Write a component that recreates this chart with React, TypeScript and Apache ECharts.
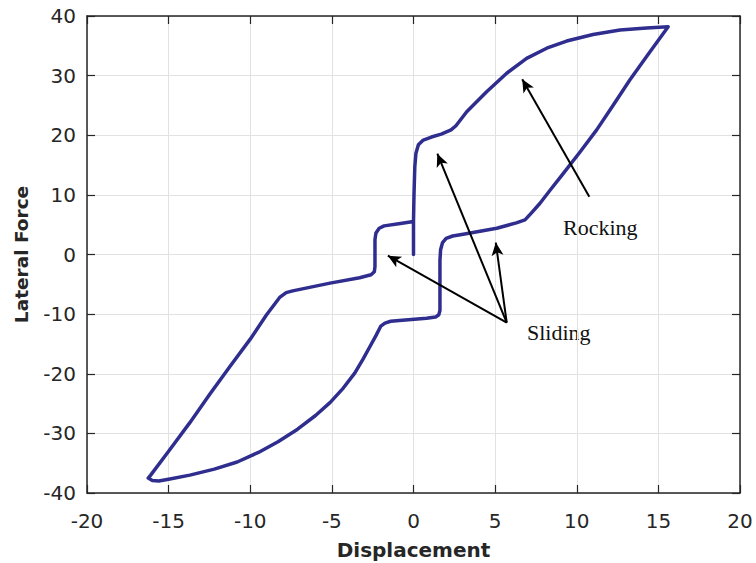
import React, { useEffect, useRef } from "react";
import * as echarts from "echarts";

// Hysteresis loop (Displacement, Lateral Force)
const dispX: number[] = [
  // initial vertical rise and rocking branch
  0, 0, 0.03, 0.08, 0.15, 0.3, 0.6, 1.1, 1.7, 2.3, 2.6, 3.26, 4.48, 5.71, 6.93, 8.16, 9.38, 11.0, 12.65, 14.28, 15.6,
  // unloading
  14.3, 13.26, 12.2, 11.22, 10.2, 9.18, 8.4, 7.75, 7.2, 6.83, 6.3, 5.1, 3.05, 2.4, 2.0, 1.78, 1.66, 1.62, 1.62, 1.55, 1.35, 0.8, -0.5, -1.4, -1.75,
  // negative loading branch
  -2.0, -2.3, -2.7, -3.1, -3.6, -4.3, -5.1, -6.0, -7.1, -8.3, -9.5, -10.8, -12.2, -13.7, -15.0, -15.6, -16.0, -16.25, -16.1,
  // reloading
  -15.0, -13.7, -12.47, -11.2, -10.0, -9.0, -8.2, -7.8, -7.4, -5.11, -3.3, -2.6, -2.4, -2.36, -2.36, -2.3, -2.1, -1.8, -0.8, -0.1, 0,
];
const forceY: number[] = [
  0, 5.5, 10, 14.7, 17.0, 18.4, 19.2, 19.7, 20.2, 20.9, 21.6, 23.95, 27.3, 30.4, 32.9, 34.6, 35.8, 36.9, 37.65, 38.0, 38.2,
  33.3, 29.3, 24.9, 20.9, 17.2, 13.6, 10.9, 8.6, 6.9, 5.8, 5.3, 4.4, 3.4, 3.1, 2.7, 2.0, 0.8, -1.0, -9.4, -10.1, -10.5, -10.7, -11.0, -11.2, -11.5,
  -12.0, -13.6, -15.6, -17.6, -19.9, -22.4, -24.8, -27.0, -29.3, -31.4, -33.2, -34.8, -36.0, -37.0, -37.7, -38.0, -37.9, -37.5, -37.0,
  -33.0, -28.2, -23.4, -18.6, -14.2, -10.1, -7.2, -6.4, -6.1, -4.8, -3.9, -3.4, -2.9, -2.0, 2.5, 3.6, 4.4, 4.8, 5.2, 5.5, 5.5,
];

// Annotation arrows: [tailX, tailY, headX, headY]
const rockingArrow: number[] = [10.77, 9.69, 6.66, 29.4];
const slidingTail: number[] = [5.71, -11.44];
const slidingHeadsX: number[] = [1.46, 5.04, -1.57];
const slidingHeadsY: number[] = [16.9, 2.0, -0.2];

const xTicks = { min: -20, max: 20, interval: 5 };
const yTicks = { min: -40, max: 40, interval: 10 };

export default function App() {
  const ref = useRef<HTMLDivElement>(null);
  useEffect(() => {
    if (!ref.current) return;
    const chart = echarts.init(ref.current, undefined, { renderer: "svg" });
    const axisColor = "#262626";
    const sans = "DejaVu Sans";
    const lineData = dispX.map((x, i) => [x, forceY[i]]);
    const arrows: any[] = [
      [
        { coord: [rockingArrow[0], rockingArrow[1]] },
        { coord: [rockingArrow[2], rockingArrow[3]] },
      ],
    ];
    slidingHeadsX.forEach((hx, i) => {
      arrows.push([
        { coord: [slidingTail[0], slidingTail[1]] },
        { coord: [hx, slidingHeadsY[i]] },
      ]);
    });
    const baseAxisLine = { show: true, onZero: false, lineStyle: { color: axisColor, width: 1.5 } };
    const baseTick = { show: true, inside: true, length: 8, lineStyle: { color: axisColor, width: 1.2 } };
    chart.setOption({
      animation: false,
      backgroundColor: "#ffffff",
      grid: { left: 87, right: 16, top: 16, bottom: 70, containLabel: false, outerBoundsMode: "none" },
      xAxis: [
        {
          type: "value",
          ...xTicks,
          position: "bottom",
          axisLine: baseAxisLine,
          axisTick: baseTick,
          axisLabel: { color: axisColor, fontSize: 20, fontFamily: sans, margin: 18 },
          splitLine: { show: true, lineStyle: { color: "#e2e2e2", width: 1 } },
          name: "Displacement",
          nameLocation: "middle",
          nameGap: 47,
          nameTextStyle: { color: axisColor, fontSize: 20, fontWeight: "bold", fontFamily: sans },
        },
        {
          type: "value",
          ...xTicks,
          position: "top",
          axisLine: baseAxisLine,
          axisTick: baseTick,
          axisLabel: { show: false },
          splitLine: { show: false },
        },
      ],
      yAxis: [
        {
          type: "value",
          ...yTicks,
          position: "left",
          axisLine: baseAxisLine,
          axisTick: baseTick,
          axisLabel: { color: axisColor, fontSize: 20, fontFamily: sans, margin: 11, padding: [8, 0, 0, 0] },
          splitLine: { show: true, lineStyle: { color: "#e2e2e2", width: 1 } },
          name: "Lateral Force",
          nameLocation: "middle",
          nameGap: 56,
          nameTextStyle: { color: axisColor, fontSize: 18.5, fontWeight: "bold", fontFamily: sans },
        },
        {
          type: "value",
          ...yTicks,
          position: "right",
          axisLine: baseAxisLine,
          axisTick: baseTick,
          axisLabel: { show: false },
          splitLine: { show: false },
        },
      ],
      series: [
        {
          type: "line",
          xAxisIndex: 0,
          yAxisIndex: 0,
          data: lineData,
          showSymbol: false,
          smooth: false,
          lineStyle: { color: "#2f2e8f", width: 3.5, join: "round", cap: "round" },
          markLine: {
            silent: true,
            symbol: ["none", "arrow"],
            symbolSize: [9, 13],
            label: { show: false },
            lineStyle: { color: "#000000", width: 2, type: "solid" },
            data: arrows,
          },
        },
      ],
      graphic: [
        {
          type: "text",
          x: 563,
          y: 227,
          style: {
            text: "Rocking",
            fill: "#111",
            fontSize: 22,
            fontFamily: "Liberation Serif",
            verticalAlign: "middle",
          },
        },
        {
          type: "text",
          x: 527,
          y: 332,
          style: {
            text: "Sliding",
            fill: "#111",
            fontSize: 22,
            fontFamily: "Liberation Serif",
            verticalAlign: "middle",
          },
        },
      ],
    });
    return () => chart.dispose();
  }, []);
  return <div ref={ref} style={{ width: 756, height: 563, position: "absolute", left: 0, top: 0 }} />;
}
